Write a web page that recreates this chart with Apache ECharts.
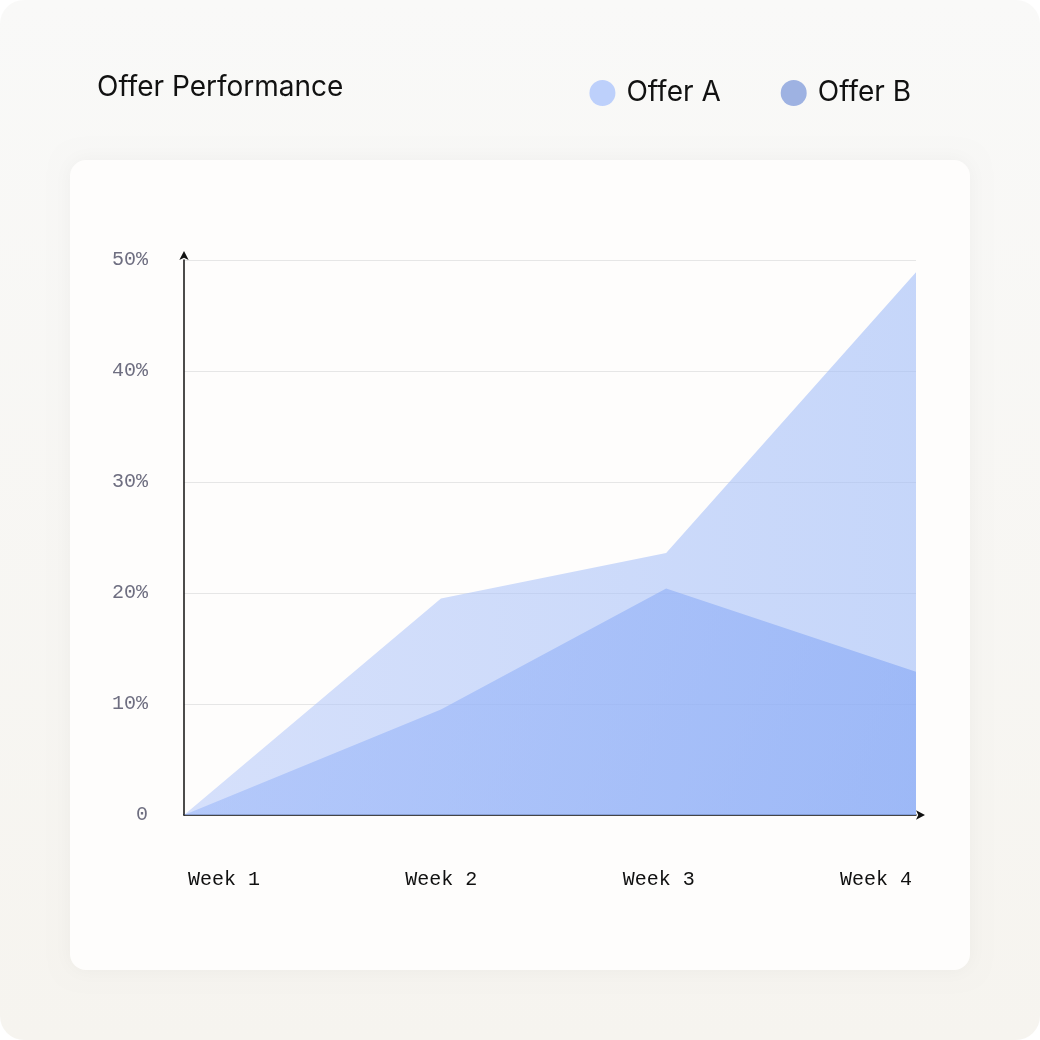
<!DOCTYPE html>
<html><head><meta charset="utf-8">
<script src="https://cdn.jsdelivr.net/npm/echarts@6/dist/echarts.min.js"></script>
<style>html,body{margin:0;padding:0;background:#fff}#c{width:1040px;height:1040px}</style>
</head><body><div id="c"></div>
<script>
const weekLabels = ['Week 1','Week 2','Week 3','Week 4'];
const xPositions = [0, 1.053, 1.976, 3];
const offerA = [0, 19.5, 23.6, 48.9];
const offerB = [0, 9.5, 20.4, 12.9];
const yTicks = [0,10,20,30,40,50];

const chart = echarts.init(document.getElementById('c'));
chart.setOption({
  animation:false,
  graphic:[
    {type:'rect',z:-10,shape:{x:0,y:0,width:1040,height:1040,r:24},style:{fill:new echarts.graphic.LinearGradient(0,0,0,1,[{offset:0,color:'#f9f9f8'},{offset:1,color:'#f6f4ef'}])}},
    {type:'rect',z:-9,shape:{x:70,y:160,width:900,height:810,r:16},style:{fill:'#fefdfc',shadowBlur:20,shadowColor:'rgba(0,0,0,0.04)'}},
    {type:'text',left:97,top:74,style:{text:'Offer Performance',fontFamily:'Inter',fontSize:28,fill:'#111'}}
  ],
  legend:{right:124,top:74,itemWidth:26,itemHeight:26,itemGap:60,icon:'circle',
    textStyle:{fontFamily:'Inter',fontSize:28,color:'#111',padding:[0,0,0,6]},
    data:[{name:'Offer A',itemStyle:{color:'#bdd0fb'}},{name:'Offer B',itemStyle:{color:'#9eb2e2'}}]},
  grid:{left:184,right:124,top:260,bottom:225},
  xAxis:[{type:'value',min:0,max:3,
    axisLine:{show:true,lineStyle:{color:'#111',width:1.5},symbol:['none','arrow'],symbolSize:[7,9],symbolOffset:[0,9]},
    axisTick:{show:false},splitLine:{show:false},
    axisLabel:{customValues:[0,1,2,3].map(i=>i*(732-80)/732*3/3+40*3/732),formatter:(v)=>{const i=Math.round((v-40*3/732)/((732-80)/732));return weekLabels[i]||'';},
      margin:55,color:'#111',fontFamily:'Liberation Mono',fontSize:20}}],
  yAxis:{type:'value',min:0,max:50,interval:10,
    axisLine:{show:true,lineStyle:{color:'#111',width:1.5},symbol:['none','arrow'],symbolSize:[7,9],symbolOffset:[0,9]},
    axisTick:{show:false},
    splitLine:{lineStyle:{color:'#e6e6e6',width:1}},
    axisLabel:{formatter:v=>v===0?'0':v+'%',margin:36,color:'#6e6e80',fontFamily:'Liberation Mono',fontSize:20}},
  series:[
    {name:'Offer A',type:'line',symbol:'none',lineStyle:{width:0},
     data:xPositions.map((x,i)=>[x,offerA[i]]),
     areaStyle:{opacity:1,color:new echarts.graphic.LinearGradient(0,0,1,0,[{offset:0,color:'rgba(180,200,250,0.55)'},{offset:1,color:'rgba(160,188,248,0.6)'}])}},
    {name:'Offer B',type:'line',symbol:'none',lineStyle:{width:0},
     data:xPositions.map((x,i)=>[x,offerB[i]]),
     areaStyle:{opacity:1,color:new echarts.graphic.LinearGradient(0,0,1,1,[{offset:0,color:'rgba(150,180,250,0.5)'},{offset:1,color:'rgba(130,165,245,0.6)'}])}}
  ]
});
</script></body></html>
